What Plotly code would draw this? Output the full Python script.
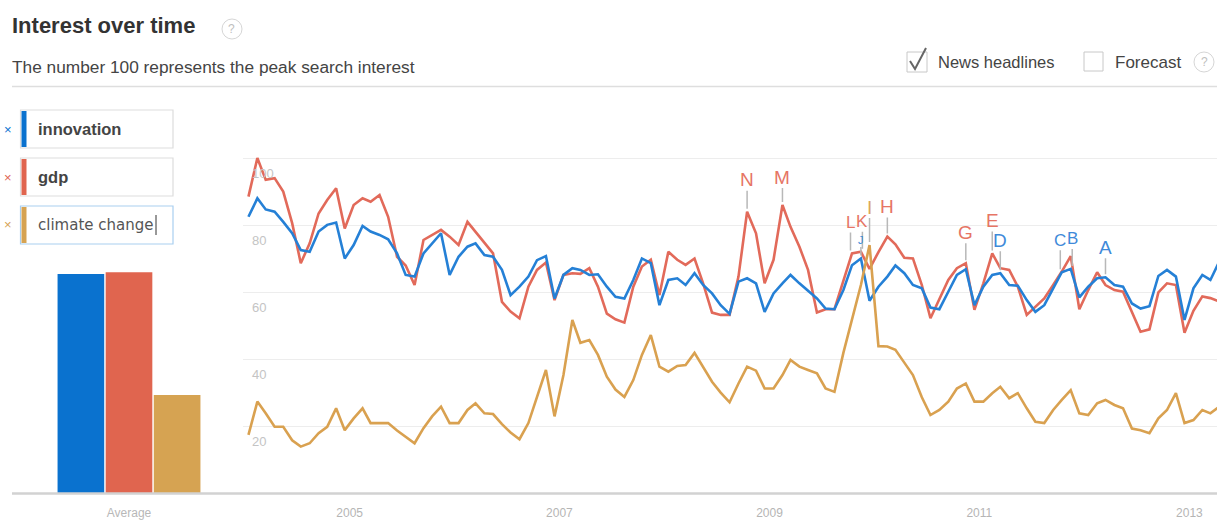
import plotly.graph_objects as go
import pandas as pd

W, H = 1217, 523
def px(x): return x / W
def py(y): return 1 - y / H

# ---------------- data ----------------
months = pd.date_range("2004-01-01", periods=112, freq="MS") + pd.Timedelta(days=14)

innovation = [82.5, 88, 84.7, 84, 81, 77.6, 72.6, 72.1, 78.1, 80.1, 80.8, 70.1,
              74.1, 79.8, 78.1, 77.1, 75.8, 71.6, 65.2, 64.7, 71.6, 74.6, 77.6, 65.2,
              70.6, 73.6, 74.6, 71.1, 70.6, 66.7, 59.2, 61.7, 64.7, 69.6, 70.8, 58.2,
              65.2, 67.2, 66.7, 65.2, 65.4, 61.7, 58.7, 58.2, 63.7, 70.1, 68.7, 56.2,
              63.7, 64.2, 62.2, 65.7, 62.2, 59.7, 56.2, 53.6, 63.2, 64.2, 62.7, 54.2,
              59.7, 62.7, 65.2, 62.7, 60.5, 58.2, 55.2, 55.0, 60.7, 68.1, 70.1, 57.5,
              61.7, 64.7, 68.0, 65.7, 62.2, 61.2, 55.5, 55.0, 60.2, 65.2, 66.9, 56.2,
              61.7, 65.2, 65.7, 62.2, 62.0, 57.7, 54.2, 56.2, 61.2, 66.0, 67.0, 58.5,
              61.7, 64.2, 64.5, 62.2, 61.7, 56.7, 55.2, 55.9, 64.9, 66.7, 64.7, 51.8,
              61.2, 65.2, 63.7, 69.2]

gdp = [88.5, 100, 93.5, 94, 90, 80.6, 68.7, 74.6, 83.5, 87.5, 91, 79,
       86, 88, 87, 89, 82.5, 70.6, 68, 62.2, 75.6, 77, 78.6, 76.6,
       74.1, 81, 78, 74.6, 71.6, 57.2, 54.3, 52.3, 61.7, 66.7, 68.9, 57.7,
       65.2, 65.7, 65.5, 67.2, 61.7, 53.7, 52, 51, 61.7, 67.7, 69.7, 59.2,
       72.1, 69.7, 68.2, 70.1, 62.7, 54, 53.3, 53.3, 64.7, 84, 77.6, 62.7,
       69.7, 86, 79.5, 73.6, 66.7, 54, 55, 55, 63.7, 71.6, 72.1, 67,
       72, 76.6, 74.3, 70.3, 70.1, 62.2, 52.3, 58.2, 63.7, 67.2, 68.7, 54.8,
       62.7, 71.6, 67.2, 66.7, 61.7, 53.3, 55.7, 58.2, 62.2, 66.2, 70.8, 55,
       60.7, 66, 62.2, 60.7, 60.2, 54, 48.3, 49, 60, 62.7, 62.2, 48,
       54.5, 58.8, 58.3, 57.3]

climate_change = [17.6, 27.5, 24, 20, 20, 16, 14.1, 15.1, 18.1, 20, 25.5, 19,
                  22.5, 25.5, 21.1, 21.1, 21.1, 18.9, 17.1, 15.1, 19.6, 23.1, 26, 21.1,
                  21.1, 25, 27, 24, 23.8, 20.8, 18.3, 16.3, 21.1, 28.8, 36.9, 23.1,
                  35.4, 51.8, 45, 45.8, 41.4, 34.9, 31.1, 28.9, 33.9, 41.4, 47.3, 37.9,
                  36.4, 38.1, 38.4, 42, 37.9, 33.4, 30.2, 27.3, 32.9, 37.9, 36.7, 31.4,
                  31.4, 35.4, 39.9, 37.9, 36.9, 35.9, 31.4, 30.4, 42, 52, 62.2, 74.1,
                  44, 43.9, 42.9, 39.1, 35.4, 28.8, 23.5, 25, 27.5, 31.4, 32.9, 27.5,
                  27.5, 30, 31.9, 28.5, 30, 25.5, 21.5, 21.1, 25, 28, 30.9, 24,
                  23.5, 27, 28, 26.5, 25.5, 19.5, 19, 18.1, 22.5, 25, 30, 21.1,
                  22, 25, 24, 26]

terms = ["innovation", "gdp", "climate change"]
averages = [65.5, 66.0, 29.5]
bar_category = ["Average"]
year_labels = ["2005", "2007", "2009", "2011", "2013"]
y_tick_values = [20, 40, 60, 80, 100]

# news headline markers: (letter, term, month index)
news_letters = ["N", "M", "L", "K", "J", "I", "H", "G", "E", "D", "C", "B", "A"]
news_terms = ["gdp", "gdp", "gdp", "gdp", "innovation", "climate change", "gdp",
              "gdp", "gdp", "innovation", "innovation", "innovation", "innovation"]
news_index = [57, 61, 69, 70, 70, 71, 73, 82, 85, 86, 93, 94, 98]

# ---------------- styles ----------------
bar_colors = {"innovation": "#0a72cf", "gdp": "#e0654f", "climate change": "#d6a352"}
line_colors = {"innovation": "#2580d6", "gdp": "#e26a5a", "climate change": "#d9a150"}
letter_colors = {"innovation": "#3f8ad9", "gdp": "#e67565", "climate change": "#dca85a"}
letter_offsets = [-32, -28, -31, -30, -18, -38, -30, -31, -33, -33, -32, -30, -30]
letter_sizes = [19, 19, 17, 17, 11, 19, 19, 19, 19, 19, 17, 17, 19]
letter_xshift = [0, 0, -1.5, 1.5, 0, 0, 0, 0, 0, 0, -1.5, 1.5, 0]
series = {"innovation": innovation, "gdp": gdp, "climate change": climate_change}

FONT = "Arial, Liberation Sans, sans-serif"
y_top = (494 - 150) / 3.36
dom_y = [py(494), py(150)]

fig = go.Figure()

for t, v in zip(terms, averages):
    fig.add_trace(go.Bar(x=bar_category, y=[v], marker=dict(color=bar_colors[t], line=dict(width=0)),
                         xaxis="x", yaxis="y", name=t, hoverinfo="skip"))

for t in ["gdp", "innovation", "climate change"]:
    fig.add_trace(go.Scatter(x=months, y=series[t], mode="lines",
                             line=dict(color=line_colors[t], width=2.6),
                             xaxis="x2", yaxis="y2", name=t))

annotations = []
for L, t, i, off, fs, xs in zip(news_letters, news_terms, news_index, letter_offsets,
                                letter_sizes, letter_xshift):
    annotations.append(dict(x=months[i], y=series[t][i], xref="x2", yref="y2",
                            text=L, showarrow=True, arrowhead=0, arrowwidth=1.5,
                            arrowcolor="#b8b8b8", ax=0, ay=off, standoff=3, xshift=xs,
                            borderpad=0,
                            font=dict(family=FONT, size=fs, color=letter_colors[t])))

# ---- header texts ----
annotations += [
    dict(x=px(10), y=py(25), xref="paper", yref="paper", xanchor="left", yanchor="middle",
         text="<b>Interest over time</b>", showarrow=False,
         font=dict(family=FONT, size=22, color="#333333")),
    dict(x=px(232), y=py(29), xref="paper", yref="paper", xanchor="center", yanchor="middle",
         text="?", showarrow=False, font=dict(family=FONT, size=12, color="#c0c0c0")),
    dict(x=px(10), y=py(67), xref="paper", yref="paper", xanchor="left", yanchor="middle",
         text="The number 100 represents the peak search interest", showarrow=False,
         font=dict(family=FONT, size=17.3, color="#444444")),
    dict(x=px(936), y=py(62), xref="paper", yref="paper", xanchor="left", yanchor="middle",
         text="News headlines", showarrow=False, font=dict(family=FONT, size=16.5, color="#444444")),
    dict(x=px(1113), y=py(62), xref="paper", yref="paper", xanchor="left", yanchor="middle",
         text="Forecast", showarrow=False, font=dict(family=FONT, size=17, color="#444444")),
    dict(x=px(1204), y=py(62), xref="paper", yref="paper", xanchor="center", yanchor="middle",
         text="?", showarrow=False, font=dict(family=FONT, size=12, color="#c0c0c0")),
]

shapes = [
    # header separator
    dict(type="line", xref="paper", yref="paper", x0=px(12), x1=1, y0=py(86.5), y1=py(86.5),
         line=dict(color="#dedede", width=1.5)),
    # help circles
    dict(type="circle", xref="paper", yref="paper", x0=px(222), x1=px(242), y0=py(19), y1=py(39),
         line=dict(color="#d6d6d6", width=1)),
    dict(type="circle", xref="paper", yref="paper", x0=px(1194), x1=px(1214), y0=py(52), y1=py(72),
         line=dict(color="#d6d6d6", width=1)),
    # checkboxes
    dict(type="rect", xref="paper", yref="paper", x0=px(907), x1=px(927), y0=py(52), y1=py(72),
         line=dict(color="#c8c8c8", width=1)),
    dict(type="path", xref="paper", yref="paper",
         path=f"M {px(910)},{py(61)} L {px(915)},{py(69)} L {px(926)},{py(48)}",
         line=dict(color="#666666", width=2)),
    dict(type="rect", xref="paper", yref="paper", x0=px(1084), x1=px(1103), y0=py(52), y1=py(71),
         line=dict(color="#c8c8c8", width=1)),
    # baseline across both panels
    dict(type="line", xref="paper", yref="paper", x0=px(12), x1=1, y0=py(493.5), y1=py(493.5),
         line=dict(color="#d2d2d2", width=2.5), layer="above"),
]

# ---- term input boxes ----
box_tops = [110, 158, 206]
for t, top in zip(terms, box_tops):
    focused = t == "climate change"
    shapes.append(dict(type="rect", xref="paper", yref="paper", x0=px(20.5), x1=px(173), y0=py(top),
                       y1=py(top + 38), line=dict(color="#a9cff0" if focused else "#dddddd", width=1.2),
                       fillcolor="white"))
    shapes.append(dict(type="rect", xref="paper", yref="paper", x0=px(21.5), x1=px(26.5), y0=py(top + 1),
                       y1=py(top + 37), line=dict(width=0), fillcolor=bar_colors[t]))
    annotations.append(dict(x=px(8), y=py(top + 19), xref="paper", yref="paper", xanchor="center",
                            yanchor="middle", text="×", showarrow=False,
                            font=dict(family=FONT, size=13, color=bar_colors[t])))
    if focused:
        annotations.append(dict(x=px(36), y=py(top + 19), xref="paper", yref="paper", xanchor="left",
                                yanchor="middle", text=t, showarrow=False,
                                font=dict(family="DejaVu Sans, sans-serif", size=15, color="#555555")))
        shapes.append(dict(type="line", xref="paper", yref="paper", x0=px(156), x1=px(156),
                           y0=py(top + 9), y1=py(top + 29), line=dict(color="#333333", width=1)))
    else:
        annotations.append(dict(x=px(36), y=py(top + 19), xref="paper", yref="paper", xanchor="left",
                                yanchor="middle", text=f"<b>{t}</b>", showarrow=False,
                                font=dict(family=FONT, size=16.5, color="#444444")))

fig.update_layout(
    width=W, height=H,
    margin=dict(l=0, r=0, t=0, b=0),
    paper_bgcolor="white", plot_bgcolor="white",
    showlegend=False,
    barmode="group", bargap=0.367, bargroupgap=0.03,
    font=dict(family=FONT),
    xaxis=dict(domain=[px(15), px(243)], anchor="y", range=[-0.5, 0.5], showgrid=False,
               showline=False, ticks="", ticklabelstandoff=10,
               tickfont=dict(size=12, color="#b8b8b8"), fixedrange=True),
    yaxis=dict(domain=dom_y, anchor="x", range=[0, y_top], showgrid=False, zeroline=False,
               showticklabels=False, showline=False),
    xaxis2=dict(domain=[px(243), 1], anchor="y2", type="date",
                range=["2003-12-27", "2013-04-07"],
                tickvals=[pd.Timestamp(f"{y}-01-01") for y in year_labels], ticktext=year_labels,
                showgrid=False, showline=False, zeroline=False, ticks="", ticklabelstandoff=10,
                tickfont=dict(size=12, color="#b5b5b5")),
    yaxis2=dict(domain=dom_y, anchor="x2", range=[0, y_top], tickvals=y_tick_values,
                showgrid=True, gridcolor="#ededed", gridwidth=1, zeroline=False, showline=False,
                ticklabelposition="inside", ticklabelshift=15, ticklabelstandoff=6,
                tickfont=dict(size=13, color="#c4c4c4")),
    annotations=annotations,
    shapes=shapes,
)

fig.write_html("out.html", config={"displayModeBar": False},
               post_script="document.body.style.margin='0';document.body.style.overflow='hidden';")
